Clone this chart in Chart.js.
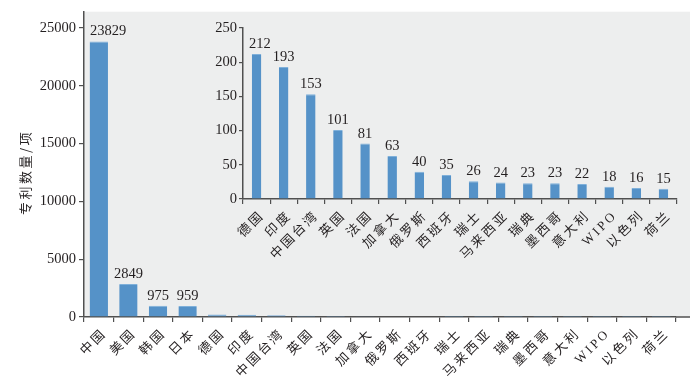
<!DOCTYPE html>
<html>
<head>
<meta charset="utf-8">
<script src="https://cdn.jsdelivr.net/npm/chart.js@4/dist/chart.umd.min.js"></script>
<style>
html,body{margin:0;padding:0;background:#fff;}
#wrap{position:relative;width:700px;height:382px;}
#wrap canvas{position:absolute;left:0;top:0;}
</style>
</head>
<body>
<div id="wrap">
<canvas id="main" width="700" height="382"></canvas>
<canvas id="inset" width="700" height="382"></canvas>
</div>
<script>
const categories = ['中国','美国','韩国','日本','德国','印度','中国台湾','英国','法国','加拿大','俄罗斯','西班牙','瑞士','马来西亚','瑞典','墨西哥','意大利','WIPO','以色列','荷兰'];
const values = [23829,2849,975,959,212,193,153,101,81,63,40,35,26,24,23,23,22,18,16,15];
const labeledMainCount = 4;
const insetCategories = categories.slice(4);
const insetValues = values.slice(4);
const mainTicks = [0,5000,10000,15000,20000,25000];
const insetTicks = [0,50,100,150,200,250];
const yTitle = '专利数量/项';

const BAR = '#5592c8';
const TXT = '#231f20';
const AX = '#505050';
const numFont = {family:'"Liberation Serif", "DejaVu Serif", serif', size:14.5};
const cjkFont = {family:'"Liberation Serif", "Noto Sans CJK SC", serif', size:13};
const LS = '2.5px';

// letter spacing for the category labels only (x scale drawn before datasets, y tick labels drawn after)
const spacingPlugin = {
  id:'spacing',
  beforeDraw(chart){ chart.ctx.letterSpacing = LS; },
  beforeDatasetsDraw(chart){ chart.ctx.letterSpacing = '0px'; }
};

const bgPlugin = {
  id:'bg',
  beforeDraw(chart){
    const {ctx, chartArea:a} = chart;
    ctx.save();
    ctx.fillStyle = '#edeeee';
    ctx.fillRect(a.left, a.top, a.right - a.left + 14, a.bottom - a.top);
    ctx.restore();
  },
  afterDraw(chart){
    const {ctx, chartArea:a} = chart;
    ctx.save();
    ctx.strokeStyle = AX; ctx.lineWidth = 1.5;
    ctx.beginPath(); ctx.moveTo(a.right, a.bottom); ctx.lineTo(a.right + 14, a.bottom); ctx.stroke();
    ctx.letterSpacing = '2.5px';
    ctx.translate(25, (a.top + a.bottom) / 2 + 8);
    ctx.rotate(-Math.PI / 2);
    ctx.font = '13px "Noto Sans CJK SC", sans-serif';
    ctx.fillStyle = TXT;
    ctx.textAlign = 'center';
    ctx.textBaseline = 'middle';
    ctx.fillText(yTitle, 0, 0);
    ctx.restore();
  }
};

function labelPlugin(limit){
  return {
    id:'vlabels',
    afterDatasetsDraw(chart){
      const {ctx, chartArea:a} = chart;
      const meta = chart.getDatasetMeta(0);
      const data = chart.data.datasets[0].data;
      ctx.save();
      ctx.letterSpacing = '0px';
      ctx.font = numFont.size + 'px ' + numFont.family;
      ctx.fillStyle = TXT;
      ctx.textAlign = 'center';
      ctx.textBaseline = 'alphabetic';
      meta.data.forEach((bar, i) => {
        if (i >= limit) return;
        const txt = String(data[i]);
        const w = ctx.measureText(txt).width;
        const x = Math.max(bar.x, a.left + 6 + w / 2);
        ctx.fillText(txt, x, bar.y - 6);
      });
      ctx.restore();
    }
  };
}

const plain = v => String(v);

new Chart(document.getElementById('main'), {
  type:'bar',
  data:{labels:categories, datasets:[{data:values, backgroundColor:BAR, borderColor:'#7fb0da', borderWidth:{top:1,left:0,right:0,bottom:0}, barPercentage:0.62, categoryPercentage:1}]},
  options:{
    responsive:false, animation:false,
    layout:{padding:{left:0,top:8,right:24,bottom:0}},
    plugins:{legend:{display:false}, tooltip:{enabled:false}},
    scales:{
      x:{
        grid:{display:true, drawOnChartArea:false, drawTicks:true, tickLength:5, color:AX, lineWidth:1.2},
        border:{display:true, color:AX, width:1.5},
        ticks:{minRotation:45, maxRotation:45, autoSkip:false, color:TXT, font:cjkFont, padding:4, labelOffset:6},
        afterFit(s){ s.height = 65; }
      },
      y:{
        min:0, max:26400,
        grid:{display:true, drawOnChartArea:false, drawTicks:true, tickLength:5, color:AX, lineWidth:1.2},
        border:{display:true, color:AX, width:1.5},
        ticks:{z:1, stepSize:5000, includeBounds:false, color:TXT, font:numFont, padding:3, callback:plain},
        afterBuildTicks(s){ s.ticks = mainTicks.map(v => ({value:v})); },
        afterFit(s){ s.width = 84; }
      }
    }
  },
  plugins:[spacingPlugin, bgPlugin, labelPlugin(labeledMainCount)]
});

new Chart(document.getElementById('inset'), {
  type:'bar',
  data:{labels:insetCategories, datasets:[{data:insetValues, backgroundColor:BAR, borderColor:'#7fb0da', borderWidth:{top:1,left:0,right:0,bottom:0}, barPercentage:0.35, categoryPercentage:1}]},
  options:{
    responsive:false, animation:false,
    layout:{padding:{left:200,top:28,right:23,bottom:120}},
    plugins:{legend:{display:false}, tooltip:{enabled:false}},
    scales:{
      x:{
        grid:{display:true, drawOnChartArea:false, drawTicks:true, tickLength:5, color:AX, lineWidth:1.2},
        border:{display:true, color:AX, width:1.5},
        ticks:{minRotation:45, maxRotation:45, autoSkip:false, color:TXT, font:cjkFont, padding:4, labelOffset:6},
        afterFit(s){ s.height = 63; }
      },
      y:{
        min:0, max:250,
        grid:{display:true, drawOnChartArea:false, drawTicks:true, tickLength:4, color:AX, lineWidth:1.2},
        border:{display:true, color:AX, width:1.5},
        ticks:{z:1, stepSize:50, color:TXT, font:numFont, padding:2, callback:plain},
        afterBuildTicks(s){ s.ticks = insetTicks.map(v => ({value:v})); },
        afterFit(s){ s.width = 43; }
      }
    }
  },
  plugins:[spacingPlugin, labelPlugin(insetValues.length)]
});
</script>
</body>
</html>
